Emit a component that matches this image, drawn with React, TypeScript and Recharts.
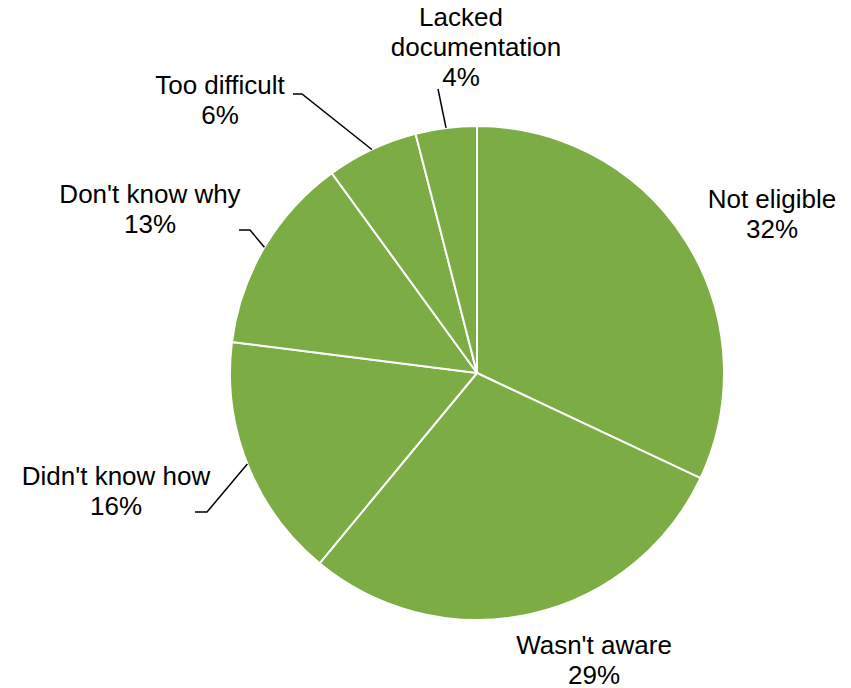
import { Pie, PieChart, Cell } from "recharts";

const reasons = [
  "Not eligible",
  "Wasn't aware",
  "Didn't know how",
  "Don't know why",
  "Too difficult",
  "Lacked documentation",
];
const shares = [32, 29, 16, 13, 6, 4];

const data = reasons.map((name, i) => ({ name, value: shares[i] }));

const GREEN = "#7cac44";
const FONT = 26;
const LINE = 30;
const RAD = Math.PI / 180;

// label placement, offsets from the pie centre (text baseline of first line)
type Place = {
  lines: string[];
  xs?: number[];
  dx: number;
  dy: number;
  elbow?: [number, number];
  end?: [number, number];
};

const placement: Record<string, Place> = {
  "Not eligible": { lines: ["Not eligible"], dx: 295, dy: -165 },
  "Wasn't aware": { lines: ["Wasn't aware"], dx: 117, dy: 281 },
  "Didn't know how": {
    lines: ["Didn't know how"],
    dx: -361,
    dy: 112,
    elbow: [-270, 139],
    end: [-282, 139],
  },
  "Don't know why": {
    lines: ["Don't know why"],
    dx: -327,
    dy: -170,
    elbow: [-227, -143],
    end: [-238, -143],
  },
  "Too difficult": {
    lines: ["Too difficult"],
    dx: -257,
    dy: -279,
    elbow: [-175, -279],
    end: [-184, -279],
  },
  "Lacked documentation": {
    lines: ["Lacked", "documentation"],
    xs: [-16, -1, -16],
    dx: 0,
    dy: -347,
    end: [-39, -284],
  },
};

function PieLabel(props: any) {
  const { cx, cy, midAngle, outerRadius, name, value } = props;
  const p = placement[name];
  if (!p) return null;
  const lines = [...p.lines, `${value}%`];
  const ang = -midAngle * RAD;
  const ex = cx + outerRadius * Math.cos(ang);
  const ey = cy + outerRadius * Math.sin(ang);
  let leader = null;
  if (p.end) {
    const pts = [[ex, ey]];
    if (p.elbow) pts.push([cx + p.elbow[0], cy + p.elbow[1]]);
    pts.push([cx + p.end[0], cy + p.end[1]]);
    leader = (
      <polyline
        points={pts.map((q) => q.join(",")).join(" ")}
        fill="none"
        stroke="#000"
        strokeWidth={1.5}
      />
    );
  }
  return (
    <g>
      {leader}
      <text
        textAnchor="middle"
        fontFamily="'Liberation Sans', Arial, sans-serif"
        fontSize={FONT}
        fill="#000"
      >
        {lines.map((t, i) => (
          <tspan key={i} x={cx + p.dx + (p.xs ? p.xs[i] : 0)} y={cy + p.dy + i * LINE}>
            {t}
          </tspan>
        ))}
      </text>
    </g>
  );
}

export default function App() {
  return (
    <div style={{ marginLeft: -8, marginTop: -8, width: 851, height: 688, background: "#fff" }}>
      <PieChart width={851} height={688} margin={{ top: 0, right: 0, bottom: 0, left: 0 }}>
        <Pie
          data={data}
          dataKey="value"
          nameKey="name"
          cx={477}
          cy={373}
          outerRadius={247}
          startAngle={90}
          endAngle={-270}
          stroke="#fff"
          strokeWidth={2}
          label={PieLabel}
          labelLine={false}
          isAnimationActive={false}
        >
          {data.map((d) => (
            <Cell key={d.name} fill={GREEN} />
          ))}
        </Pie>
      </PieChart>
    </div>
  );
}
